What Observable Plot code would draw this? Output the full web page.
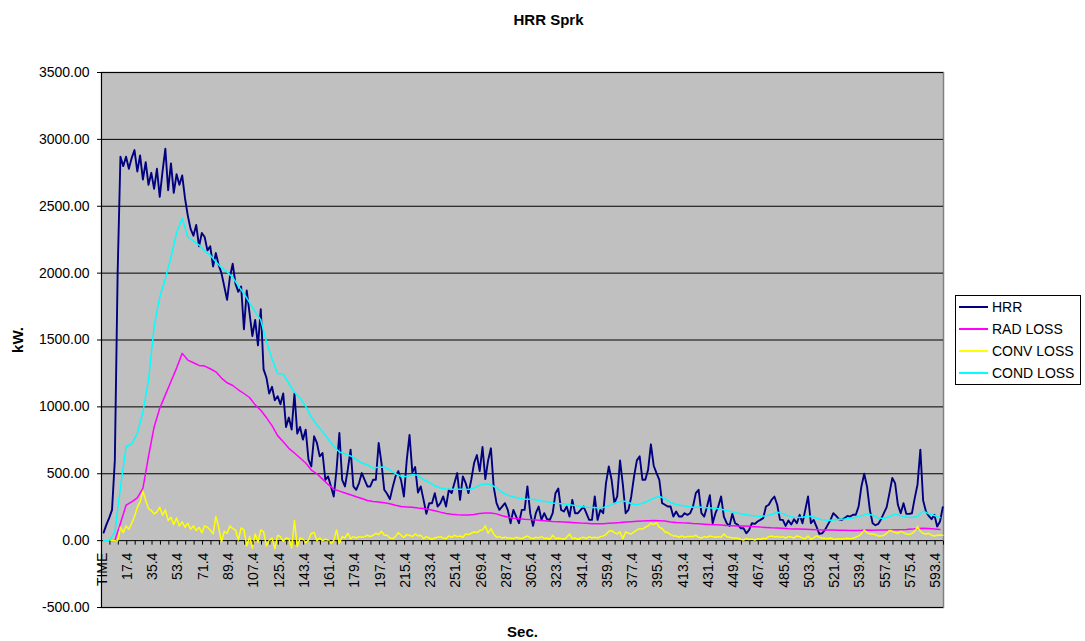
<!DOCTYPE html>
<html><head><meta charset="utf-8">
<script src="https://cdn.jsdelivr.net/npm/d3@7"></script>
<script src="https://cdn.jsdelivr.net/npm/@observablehq/plot@0.6"></script>
<style>
body{margin:0;background:#fff;}
#wrap{position:relative;width:1085px;height:641px;font-family:"Liberation Sans",Arial,sans-serif;}
#wrap svg{position:absolute;left:0;top:0;}
#legend{position:absolute;left:955px;top:295px;width:124px;height:88px;border:1px solid #000;background:#fff;font-size:14px;color:#000;}
.row{height:22px;line-height:22px;display:flex;align-items:center;white-space:nowrap;}
.sw{width:29px;height:2px;margin-left:3px;margin-right:4px;}
</style></head><body><div id="wrap"></div>
<script>
// ---- text ----
const chartTitle = "HRR Sprk";
const yTitle = "kW.";
const xTitle = "Sec.";
const seriesNames = ["HRR", "RAD LOSS", "CONV LOSS", "COND LOSS"];
const seriesColors = ["#000080", "#ff00ff", "#ffff00", "#00ffff"];

// category axis labels (time in s); first category is the header "TIME"
const xLabels = ["TIME","17.4","35.4","53.4","71.4","89.4","107.4","125.4","143.4","161.4","179.4","197.4",
  "215.4","233.4","251.4","269.4","287.4","305.4","323.4","341.4","359.4","377.4","395.4","413.4","431.4",
  "449.4","467.4","485.4","503.4","521.4","539.4","557.4","575.4","593.4"];
const yTicks = [-500, 0, 500, 1000, 1500, 2000, 2500, 3000, 3500];

// time of the first sample and sample spacing (s)
const tStart = 0.4;
const hrrStep = 2, convStep = 2, radStep = 4, condStep = 4;

// HRR (kW), every 2 s
const hrr = [
  60,120,170,230,600,2000,2870,2800,2870,2780,
  2860,2920,2760,2880,2700,2830,2660,2750,2630,2780,
  2570,2760,2930,2620,2820,2600,2740,2660,2730,2560,
  2430,2330,2280,2360,2200,
  2300,2270,2170,2200,2050,2150,2060,2000,1900,1800,
  1970,2070,1920,1860,1900,1580,1870,1700,1530,1650,
  1460,1730,1280,1220,1100,1150,1050,1080,1020,1100,
  850,920,830,1100,800,850,
  755,830,605,555,780,730,630,655,455,480,
  405,330,530,805,455,405,530,680,405,380,
  430,505,455,405,405,455,455,730,580,380,
  350,310,400,480,520,450,330,600,790,510,
  550,360,
  405,305,200,280,280,355,255,280,330,255,
  380,355,430,505,305,480,430,355,455,580,
  640,520,700,460,600,690,400,280,230,255,
  280,230,130,230,180,130,230,230,405,205,
  110,205,255,155,205,160,155,205,355,390,
  230,218,255,180,305,205,205,230,255,205,
  155,155,330,155,230,205,430,555,455,280,
  330,600,420,205,230,330,480,600,630,455,
  455,530,720,560,505,455,280,268,255,255,
  180,218,180,180,205,193,205,255,355,380,
  205,180,255,340,130,205,255,330,180,130,
  110,200,130,118,
  93,93,55,80,130,125,143,155,168,255,
  268,305,330,268,155,155,110,150,120,160,
  130,193,130,230,330,130,155,105,50,55,
  80,118,155,205,185,160,155,168,185,180,
  193,193,255,405,500,405,230,130,115,125,
  160,205,250,355,468,430,268,205,280,200,
  200,205,318,420,680,300,218,185,160,193,
  105,143,250
];

// RAD LOSS (kW), every 4 s
const radLoss = [
  0,0,0,130,265,290,320,390,630,850,990,1090,1190,1290,1400,1350,1330,1310,
  1305,1285,1262,1215,1180,1160,1128,1100,1070,1015,975,920,860,785,740,690,655,618,
  580,528,500,460,420,385,370,356,343,328,315,300,292,288,283,276,265,255,252,249,244,
  240,232,224,213,203,197,194,192,192,196,202,206,207,200,186,176,168,164,160,157,154,150,146,143,141,
  139,137,134,131,129,127,126,126,129,132,135,139,142,145,147,149,150,149,146,140,136,133,131,128,126,123,120,118,116,113,112,110,
  109,107,104,101,99,96,94,92,89,87,86,85,84,82,80,80,79,78,77,76,75,77,80,78,79,80,80,81,82,83,86,90,92,90,87,84
];

// CONV LOSS (kW), every 2 s
const convLoss = [
  0,0,0,0,0,-5,100,60,110,85,
  130,180,250,290,370,300,240,225,200,215,
  250,190,230,150,175,120,170,110,140,100,
  130,85,110,75,100,
  60,110,100,80,50,180,100,-10,70,55,
  110,90,80,5,95,80,-40,30,-55,50,
  -10,80,65,-40,0,20,-60,40,30,-5,
  20,15,-55,150,-45,20,
  10,-15,5,55,60,0,20,0,10,5,
  -20,0,80,-20,30,20,55,15,30,20,
  30,25,30,40,30,40,55,45,70,40,
  40,20,15,30,60,40,25,45,40,30,
  50,35,
  40,15,30,20,10,20,25,30,20,15,
  35,25,40,30,35,25,50,45,55,65,
  60,75,80,110,55,90,50,25,30,20,
  25,20,20,15,25,20,15,25,35,20,
  15,25,20,30,15,20,10,40,15,20,
  15,10,25,50,15,20,10,20,25,15,
  30,20,25,20,30,35,45,70,75,60,
  50,65,15,65,55,50,65,80,90,85,
  100,110,130,120,135,100,90,65,60,45,
  35,35,25,35,25,30,30,30,40,25,
  20,30,25,35,30,25,30,25,50,30,
  25,20,20,18,
  10,5,15,8,12,5,15,10,18,15,
  30,35,28,30,25,30,20,30,28,20,
  35,30,18,15,35,10,20,35,25,20,
  18,15,20,12,10,15,12,15,18,15,
  18,25,35,50,80,60,50,50,45,35,
  35,40,55,75,70,60,55,70,60,50,
  45,55,70,105,70,55,50,55,40,35,
  40,42,40
];

// COND LOSS (kW), every 4 s
const condLoss = [
  0,0,60,400,700,725,800,960,1200,1600,1820,1960,2120,2300,2410,2270,2240,2210,
  2165,2134,2085,2040,2009,1968,1905,1848,1780,1710,1650,1490,1360,1250,1245,1175,1110,1065,
  1005,925,865,815,760,705,662,648,633,608,580,567,543,548,550,528,500,480,480,493,488,
  455,435,410,393,386,385,385,384,382,393,415,425,418,395,360,340,328,316,310,310,306,296,290,282,278,
  275,268,262,255,250,248,246,247,262,280,292,295,276,268,280,296,318,330,315,285,270,262,255,250,252,247,243,242,235,226,215,204,
  197,190,185,183,185,195,212,202,185,175,173,178,182,168,157,150,155,160,162,167,175,185,200,190,170,165,180,198,185,176,173,180,222,200,188,173
];

// ---- build tables ----
const toRows = (vals, step) => vals.map((v, i) => ({t: tStart + i * step, v}));
const series = [
  {rows: toRows(hrr, hrrStep), color: seriesColors[0], w: 1.9},
  {rows: toRows(radLoss, radStep), color: seriesColors[1], w: 1.5},
  {rows: toRows(convLoss, convStep), color: seriesColors[2], w: 1.5},
  {rows: toRows(condLoss, condStep), color: seriesColors[3], w: 1.5}
];

// category band: 600 categories of 1 s, label centred on each category
const xDomain = [-1.1, 598.9];
const xTickMarks = d3.range(xDomain[0], xDomain[1] + 0.01, 6);
const labelPos = d => d === "TIME" ? -0.6 : +d;
const tickSymbol = {draw(ctx) { ctx.moveTo(0, 0); ctx.lineTo(0, 4); }};

const font = '"Liberation Sans", Arial, sans-serif';

const chart = Plot.plot({
  width: 1085, height: 641,
  marginLeft: 101, marginRight: 142, marginTop: 72, marginBottom: 34,
  style: {fontFamily: font, fontSize: "14px", color: "#000", background: "transparent", overflow: "visible"},
  x: {type: "linear", domain: xDomain, axis: null},
  y: {domain: [yTicks[0], yTicks[yTicks.length - 1]], label: null},
  marks: [
    Plot.frame({fill: "#c0c0c0", stroke: "#808080", strokeWidth: 1.5}),
    Plot.ruleY(yTicks, {stroke: "#000", strokeWidth: 1}),
    ...series.map(s => Plot.line(s.rows, {x: "t", y: "v", stroke: s.color, strokeWidth: s.w})),
    Plot.ruleX([xDomain[0]], {stroke: "#000", strokeWidth: 1}),
    Plot.axisY(yTicks, {tickFormat: d => d.toFixed(2), tickSize: 4, tickPadding: 8, fontSize: 14, label: null}),
    Plot.dot(xTickMarks, {x: d => d, y: 0, symbol: tickSymbol, stroke: "#000", fill: "none", strokeWidth: 1}),
    Plot.text(xLabels, {x: labelPos, y: 0, text: d => d, rotate: -90, textAnchor: "end", lineAnchor: "middle", dy: 12, fontSize: 14, fill: "#000"}),
    Plot.text([yTitle], {frameAnchor: "left", dx: -83, rotate: -90, textAnchor: "middle", lineAnchor: "middle", fontWeight: "bold", fontSize: 15, fill: "#000"}),
    Plot.text([xTitle], {frameAnchor: "bottom", dy: 25, textAnchor: "middle", lineAnchor: "middle", fontWeight: "bold", fontSize: 15, fill: "#000"}),
    Plot.text([chartTitle], {frameAnchor: "top", dx: 26, dy: -52, textAnchor: "middle", lineAnchor: "middle", fontWeight: "bold", fontSize: 15, fill: "#000"})
  ]
});

const wrap = document.getElementById("wrap");
wrap.appendChild(chart);

// legend
const legend = document.createElement("div");
legend.id = "legend";
seriesNames.forEach((name, i) => {
  const row = document.createElement("div");
  row.className = "row";
  const sw = document.createElement("span");
  sw.className = "sw";
  sw.style.background = seriesColors[i];
  const label = document.createElement("span");
  label.textContent = name;
  row.appendChild(sw);
  row.appendChild(label);
  legend.appendChild(row);
});
wrap.appendChild(legend);
</script></body></html>
